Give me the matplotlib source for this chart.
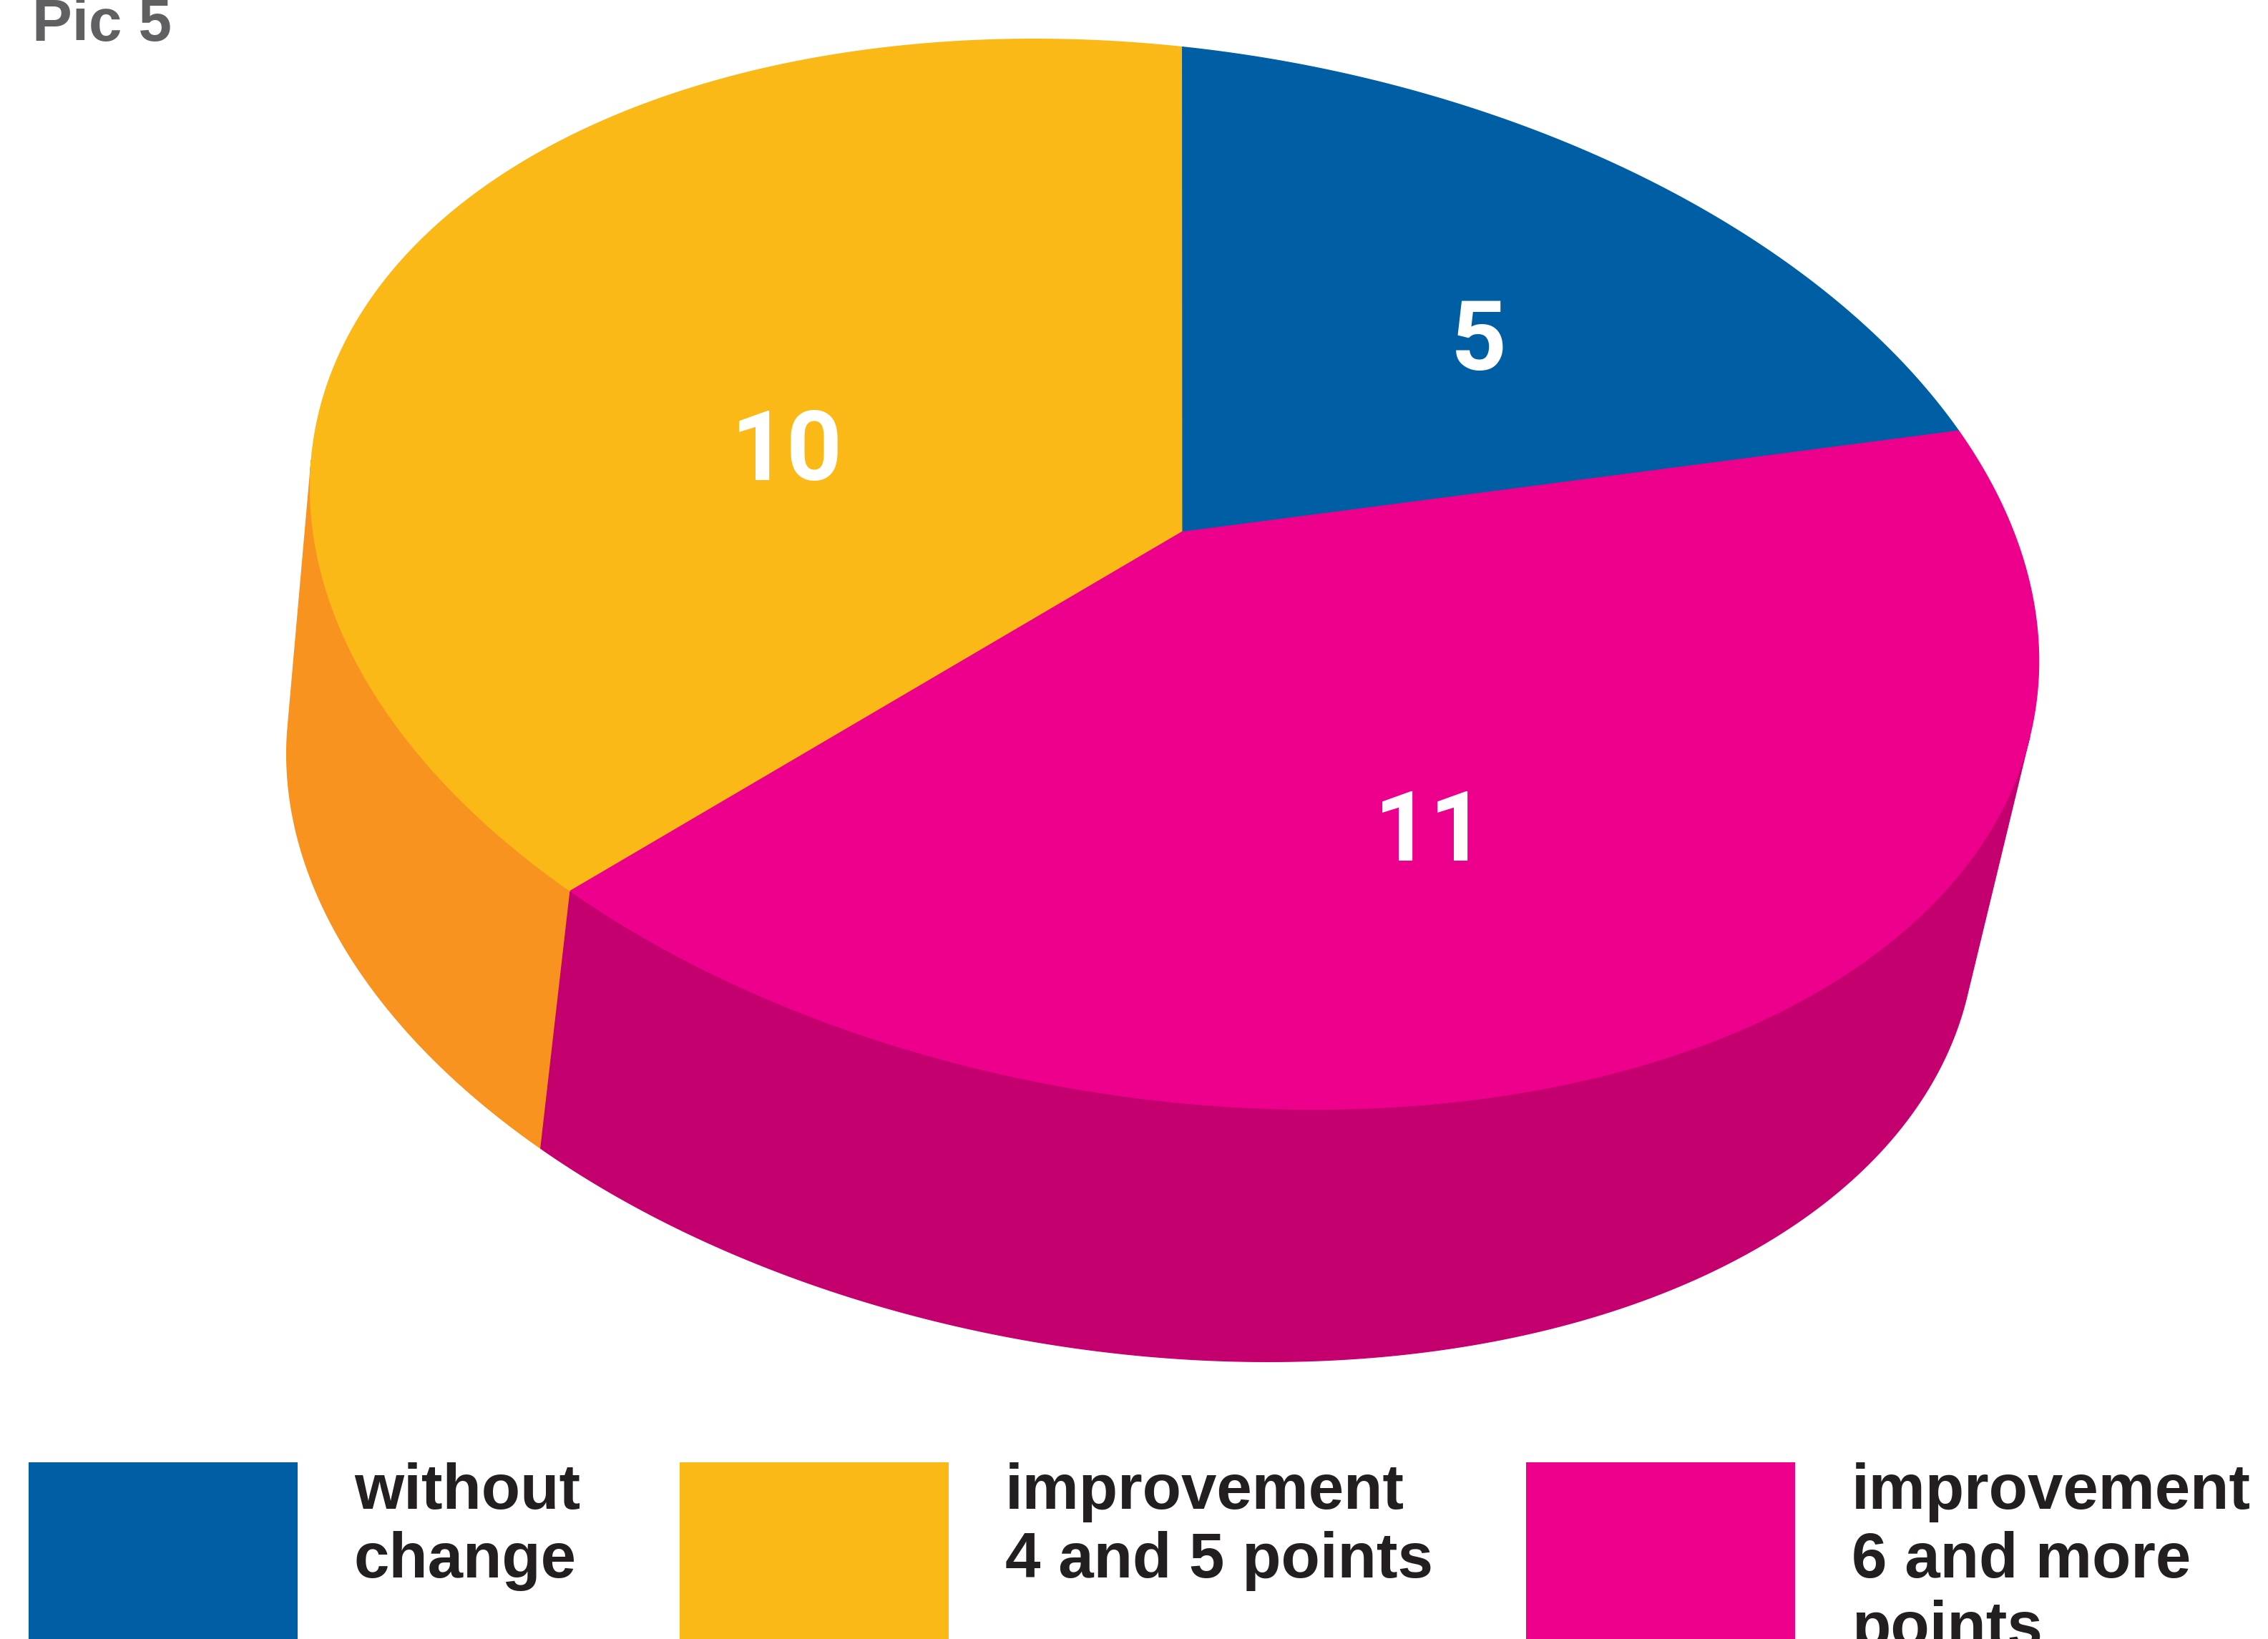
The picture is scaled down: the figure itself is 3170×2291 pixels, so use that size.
"""Pic 5 - 3D pie: score change distribution."""
import matplotlib
matplotlib.use("Agg")
import matplotlib.pyplot as plt
import numpy as np

plt.rcParams["font.family"] = ["Liberation Sans", "DejaVu Sans"]

title = "Pic 5"
categories = ["without\nchange", "improvement\n4 and 5 points", "improvement\n6 and more\npoints"]
values = [5, 10, 11]
value_labels = ["5", "10", "11"]

TOP_C = ["#005EA5", "#FBB917", "#EC008C"]
SIDE_C = ["#004A85", "#F7931E", "#C4006F"]

W, H = 3170, 2291
fig = plt.figure(figsize=(W / 100, H / 100), dpi=100)
ax = fig.add_axes([0, 0, 1, 1])
ax.set_xlim(0, W)
ax.set_ylim(H, 0)
ax.axis("off")

# ---- ellipse geometry in pixels (y down, t grows clockwise on screen) ----
CX, CY = 1641.6, 802.6          # top ellipse centre
AX, AY, BY = 1208.0, 121.3, 738.0
QX, QY = 0.0084, -0.081         # apex offset inside unit disc (perspective)
DX, DY, SC = -60.7, 370.0, 0.977  # bottom ellipse shift + shrink
LABEL_R = [0.62, 0.48, 0.52]
DIGIT_H = 97                    # label digit height, px

# projective map of the unit disc onto itself that sends the centre to Q
phi = np.arctan2(QY, QX)
a = np.arctanh(np.hypot(QX, QY))
R = lambda p: np.array([[np.cos(p), -np.sin(p), 0], [np.sin(p), np.cos(p), 0], [0, 0, 1]])
Bst = np.array([[np.cosh(a), 0, np.sinh(a)], [0, 1, 0], [np.sinh(a), 0, np.cosh(a)]])
G = R(phi) @ Bst @ R(-phi)


def persp(theta):
    p = G @ np.vstack([np.cos(theta), np.sin(theta), np.ones_like(theta)])
    return np.arctan2(p[1], p[0])


def top(t):
    return CX + AX * np.cos(t), CY + AY * np.cos(t) + BY * np.sin(t)


def bot(t):
    return (CX + DX + SC * AX * np.cos(t),
            CY + DY + SC * (AY * np.cos(t) + BY * np.sin(t)))


def front(t):
    tx, ty = -AX * np.sin(t), -AY * np.sin(t) + BY * np.cos(t)
    x0, y0 = top(t)
    x1, y1 = bot(t)
    return tx * (y1 - y0) - ty * (x1 - x0) < 0


VX, VY = CX + AX * QX, CY + AY * QX + BY * QY

total = float(sum(values))
start = np.deg2rad(-90 + 360 * values[0] / total)
cum = np.concatenate([[0], np.cumsum(values)]) / total * 2 * np.pi
edges = [(start - cum[i], start - cum[i + 1]) for i in range(len(values))]

# sides (front-facing part only)
for i, (ta, tb) in enumerate(edges):
    ts = np.unwrap(persp(np.linspace(ta, tb, 800)))
    mask = front(ts)
    runs = np.split(np.arange(len(ts)), np.where(np.diff(mask.astype(int)) != 0)[0] + 1)
    for r in runs:
        if not mask[r[0]] or len(r) < 2:
            continue
        tr = ts[r]
        xt, yt = top(tr)
        xb, yb = bot(tr[::-1])
        ax.fill(np.r_[xt, xb], np.r_[yt, yb], color=SIDE_C[i], lw=1, zorder=1)

# tops
for i, (ta, tb) in enumerate(edges):
    ts = np.unwrap(persp(np.linspace(ta, tb, 800)))
    xt, yt = top(ts)
    ax.fill(np.r_[VX, xt], np.r_[VY, yt], color=TOP_C[i], lw=1, zorder=2)
    tm = (ta + tb) / 2
    lx = CX + LABEL_R[i] * AX * np.cos(tm)
    ly = CY + LABEL_R[i] * (AY * np.cos(tm) + BY * np.sin(tm))
    ax.text(lx, ly + DIGIT_H / 2, value_labels[i], color="white", fontsize=98,
            fontweight="bold", family=["Roboto", "DejaVu Sans"],
            ha="center", va="baseline", zorder=3)

ax.text(45, 57, title, color="#606062", fontsize=60, fontweight="bold",
        ha="left", va="baseline")

# legend
box_x = [40, 950, 2133]
text_x = [495, 1405, 2588]
for i, cat in enumerate(categories):
    ax.add_patch(plt.Rectangle((box_x[i], 2044), 376, 400, color=TOP_C[i], lw=0))
    for j, line in enumerate(cat.split("\n")):
        ax.text(text_x[i], 2109 + 96 * j, line, color="#231F20", fontsize=64,
                fontweight="bold", ha="left", va="baseline")

fig.savefig("out.png", dpi=100)
